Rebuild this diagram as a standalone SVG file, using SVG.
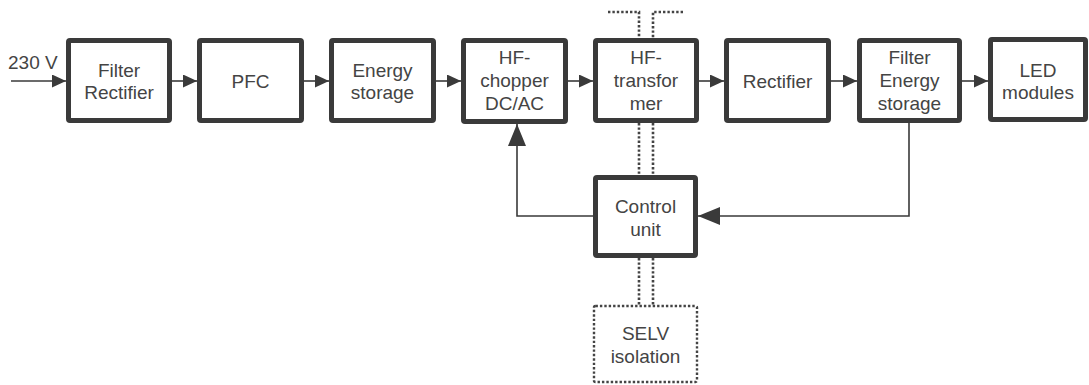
<svg xmlns="http://www.w3.org/2000/svg" width="1089" height="385" viewBox="0 0 1089 385">
<style>
.box{fill:#fff;stroke:#3a3a3a;stroke-width:5}
.sel{fill:#fff;stroke:#444;stroke-width:2.4;stroke-dasharray:2.4 2}
.t{font-family:"Liberation Sans",Arial,sans-serif;font-size:19px;fill:#444;text-anchor:middle}
.c{stroke:#3a3a3a;stroke-width:1.6;fill:none}
.d{stroke:#444;stroke-width:2.6;stroke-dasharray:2.4 2;fill:none}
</style>
<defs>
<marker id="a" viewBox="0 0 14 13" refX="14" refY="6.5" markerWidth="14" markerHeight="13" markerUnits="userSpaceOnUse" orient="auto"><path d="M0,0 L14,6.5 L0,13 Z" fill="#3a3a3a"/></marker>
<marker id="b" viewBox="0 0 22 18" refX="22" refY="9" markerWidth="22" markerHeight="18" markerUnits="userSpaceOnUse" orient="auto"><path d="M0,0 L22,9 L0,18 Z" fill="#3a3a3a"/></marker>
</defs>
<g id="connectors">
<text class="t" x="8" y="69" style="text-anchor:start">230 V</text>
<line class="c" x1="11" y1="81" x2="66" y2="81" marker-end="url(#a)"/>
<line class="c" x1="172" y1="81" x2="197" y2="81" marker-end="url(#a)"/>
<line class="c" x1="304" y1="81" x2="329" y2="81" marker-end="url(#a)"/>
<line class="c" x1="436" y1="81" x2="461" y2="81" marker-end="url(#a)"/>
<line class="c" x1="568" y1="81" x2="593" y2="81" marker-end="url(#a)"/>
<line class="c" x1="699" y1="81" x2="724" y2="81" marker-end="url(#a)"/>
<line class="c" x1="831" y1="81" x2="857" y2="81" marker-end="url(#a)"/>
<line class="c" x1="962" y1="81" x2="988" y2="81" marker-end="url(#a)"/>
<polyline class="c" points="593,216 517,216 517,124" marker-end="url(#b)"/>
<polyline class="c" points="909,123 909,216 698,216" marker-end="url(#b)"/>
<polyline class="d" points="608,12 639,12 639,38"/>
<polyline class="d" points="683,12 653,12 653,38"/>
<line class="d" x1="639" y1="123" x2="639" y2="175"/>
<line class="d" x1="653" y1="123" x2="653" y2="175"/>
<line class="d" x1="639" y1="258" x2="639" y2="305"/>
<line class="d" x1="653" y1="258" x2="653" y2="305"/>
</g>
<g id="n1"><rect class="box" x="68.5" y="40.5" width="101" height="80" rx="1.5"/><text class="t" x="119" y="77">Filter</text><text class="t" x="119" y="99">Rectifier</text></g>
<g id="n2"><rect class="box" x="199.5" y="40.5" width="102" height="80" rx="1.5"/><text class="t" x="250.5" y="88">PFC</text></g>
<g id="n3"><rect class="box" x="331.5" y="40.5" width="102" height="80" rx="1.5"/><text class="t" x="382.5" y="77">Energy</text><text class="t" x="382.5" y="99">storage</text></g>
<g id="n4"><rect class="box" x="463.5" y="40.5" width="102" height="81" rx="1.5"/><text class="t" x="514.5" y="64">HF-</text><text class="t" x="514.5" y="87">chopper</text><text class="t" x="514.5" y="110">DC/AC</text></g>
<g id="n5"><rect class="box" x="595.5" y="40.5" width="101" height="80" rx="1.5"/><text class="t" x="646" y="64">HF-</text><text class="t" x="646" y="87">transfor</text><text class="t" x="646" y="110">mer</text></g>
<g id="n6"><rect class="box" x="726.5" y="40.5" width="102" height="80" rx="1.5"/><text class="t" x="777.5" y="88">Rectifier</text></g>
<g id="n7"><rect class="box" x="859.5" y="40.5" width="100" height="80" rx="1.5"/><text class="t" x="909.5" y="64">Filter</text><text class="t" x="909.5" y="87">Energy</text><text class="t" x="909.5" y="110">storage</text></g>
<g id="n8"><rect class="box" x="990.5" y="39.5" width="95" height="80" rx="1.5"/><text class="t" x="1038" y="77">LED</text><text class="t" x="1038" y="99">modules</text></g>
<g id="n9"><rect class="box" x="595.5" y="177.5" width="100" height="78" rx="1.5"/><text class="t" x="645.5" y="213">Control</text><text class="t" x="645.5" y="236">unit</text></g>
<g id="n10"><rect class="sel" x="594" y="306" width="103" height="76" rx="1.5"/><text class="t" x="645.5" y="340">SELV</text><text class="t" x="645.5" y="363">isolation</text></g>
</svg>
